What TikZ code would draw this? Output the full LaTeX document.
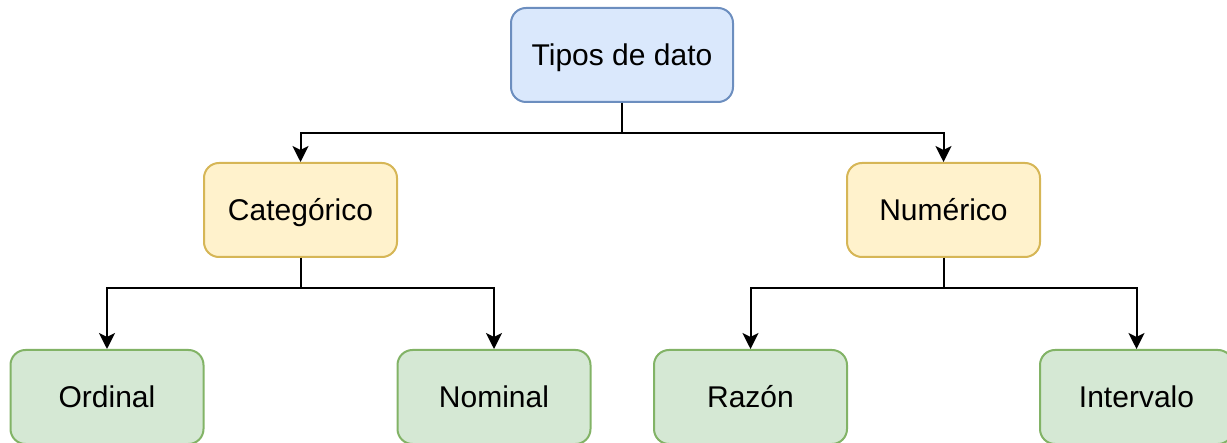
\documentclass[tikz,border=0pt]{standalone}
\usepackage{fontspec}
\setmainfont{Liberation Sans}
\usetikzlibrary{arrows.meta}

\definecolor{blueFill}{HTML}{DAE8FC}
\definecolor{blueLine}{HTML}{6C8EBF}
\definecolor{yellowFill}{HTML}{FFF2CC}
\definecolor{yellowLine}{HTML}{D6B656}
\definecolor{greenFill}{HTML}{D5E8D4}
\definecolor{greenLine}{HTML}{82B366}

\tikzset{
  box/.style={draw, line width=1pt, rounded corners=7.5pt, minimum width=96.5pt,
    minimum height=47pt, inner sep=0pt, text=black,
    text height=13pt, text depth=2pt,
    font=\fontsize{15}{18}\selectfont},
  rootbox/.style={box, fill=blueFill, draw=blueLine, minimum width=111pt},
  midbox/.style={box, fill=yellowFill, draw=yellowLine},
  leafbox/.style={box, fill=greenFill, draw=greenLine},
  arr/.style={line width=1pt, -{Stealth[length=8pt,width=8pt,inset=2pt]}},
}

\begin{document}
\begin{tikzpicture}[x=0.5pt,y=-0.5pt]
  \useasboundingbox (0,0) rectangle (1227,443);
  \clip (0,0) rectangle (1227,443);

  % hierarchy of data types
  \node[rootbox] (tipos) at (622,55) {Tipos de dato};

  \node[midbox] (cat) at (300.5,210) {Categórico};
  \node[midbox] (num) at (943.5,210) {Numérico};

  \node[leafbox] (ord) at (107,397) {Ordinal};
  \node[leafbox] (nom) at (494,397) {Nominal};
  \node[leafbox] (raz) at (750.5,397) {Razón};
  \node[leafbox] (int) at (1136.5,397) {Intervalo};

  % orthogonal connectors
  \draw[arr] (tipos.south) -- ++(0,30) -| (cat.north);
  \draw[arr] (tipos.south) -- ++(0,30) -| (num.north);

  \draw[arr] (cat.south) -- ++(0,30) -| (ord.north);
  \draw[arr] (cat.south) -- ++(0,30) -| (nom.north);

  \draw[arr] (num.south) -- ++(0,30) -| (raz.north);
  \draw[arr] (num.south) -- ++(0,30) -| (int.north);
\end{tikzpicture}
\end{document}
